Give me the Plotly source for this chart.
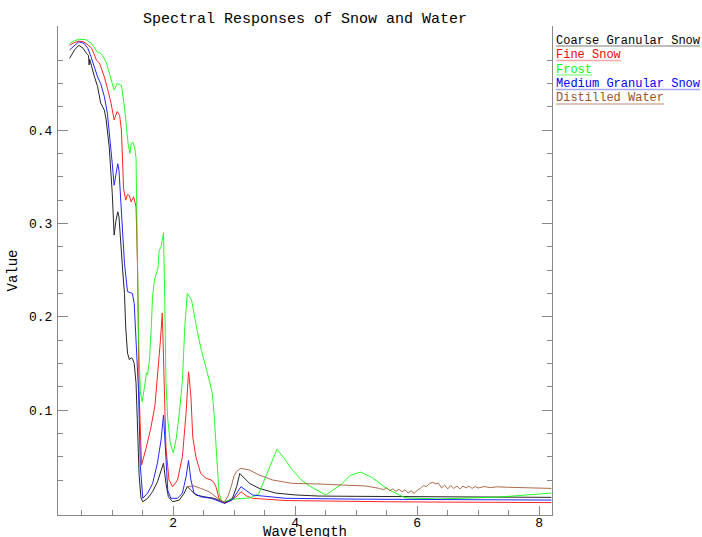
import plotly.graph_objects as go

# ---------------- data ----------------
coarse_w = [0.30, 0.38, 0.45, 0.52, 0.58, 0.61, 0.62, 0.63, 0.70, 0.76, 0.81, 0.87, 0.90, 0.92, 0.95,
            1.00, 1.03, 1.06, 1.09, 1.11, 1.14, 1.17, 1.20, 1.22, 1.25, 1.28, 1.31, 1.33, 1.36, 1.39,
            1.41, 1.44, 1.47, 1.50, 1.58, 1.66, 1.74, 1.80, 1.84, 1.88, 1.92, 1.99, 2.10, 2.18, 2.23,
            2.29, 2.37, 2.51, 2.67, 2.76, 2.84, 2.97, 3.04, 3.09, 3.14, 3.25, 3.41, 3.68, 4.00, 4.39,
            5.00, 6.00, 7.00, 8.20]
coarse_v = [0.477, 0.486, 0.491, 0.488, 0.482, 0.480, 0.470, 0.476, 0.459, 0.4465, 0.429, 0.4215, 0.411, 0.397, 0.382,
            0.332, 0.2876, 0.303, 0.3125, 0.307, 0.275, 0.250, 0.225, 0.189, 0.161, 0.154, 0.156, 0.1554, 0.150, 0.1286,
            0.090, 0.030, 0.006, 0.0017, 0.0054, 0.0124, 0.023, 0.034, 0.043, 0.0214, 0.007, 0.0017, 0.0035, 0.011, 0.018,
            0.014, 0.009, 0.007, 0.0054, 0.003, 0.0006, 0.0054, 0.018, 0.032, 0.0285, 0.0214, 0.016, 0.011, 0.009, 0.0078,
            0.0075, 0.0070, 0.0068, 0.0064]

fine_w = [0.30, 0.38, 0.45, 0.52, 0.57, 0.66, 0.70, 0.74, 0.79, 0.83, 0.87, 0.92, 0.98, 1.03, 1.06,
          1.08, 1.12, 1.15, 1.185, 1.22, 1.25, 1.28, 1.31, 1.35, 1.39, 1.415, 1.44, 1.48, 1.55, 1.63,
          1.70, 1.75, 1.79, 1.82, 1.85, 1.88, 1.93, 1.99, 2.07, 2.15, 2.21, 2.25, 2.27, 2.29, 2.32,
          2.37, 2.45, 2.54, 2.62, 2.66, 2.70, 2.75, 2.84, 2.95, 3.05, 3.11, 3.20, 3.30, 3.85, 4.50,
          5.50, 6.50, 8.20]
fine_v = [0.491, 0.494, 0.4955, 0.495, 0.493, 0.488, 0.482, 0.475, 0.472, 0.465, 0.457, 0.445, 0.429, 0.411, 0.418,
          0.420, 0.416, 0.400, 0.3376, 0.325, 0.331, 0.330, 0.323, 0.3287, 0.318, 0.250, 0.120, 0.041, 0.058, 0.080,
          0.105, 0.140, 0.175, 0.204, 0.130, 0.060, 0.025, 0.0178, 0.025, 0.050, 0.0967, 0.141, 0.129, 0.114, 0.071,
          0.050, 0.032, 0.0268, 0.025, 0.023, 0.0178, 0.0054, 0.0, 0.003, 0.008, 0.0124, 0.008, 0.0054, 0.003, 0.0022,
          0.0017, 0.0013, 0.0008]

frost_w = [0.30, 0.38, 0.46, 0.57, 0.66, 0.75, 0.80, 0.84, 0.90, 1.00, 1.03, 1.08, 1.15, 1.20, 1.26,
           1.29, 1.31, 1.34, 1.37, 1.39, 1.41, 1.43, 1.46, 1.49, 1.53, 1.56, 1.58, 1.61, 1.64, 1.66,
           1.69, 1.72, 1.75, 1.76, 1.77, 1.80, 1.84, 1.86, 1.88, 1.91, 1.95, 2.00, 2.05, 2.10, 2.15,
           2.19, 2.23, 2.26, 2.30, 2.38, 2.46, 2.56, 2.62, 2.64, 2.67, 2.70, 2.75, 2.80, 2.92, 3.05,
           3.25, 3.40, 3.55, 3.70, 3.80, 3.95, 4.10, 4.25, 4.50, 4.75, 4.90, 5.07, 5.25, 5.50, 5.70,
           5.82, 6.36, 7.34, 8.20]
frost_v = [0.493, 0.496, 0.4975, 0.497, 0.493, 0.484, 0.483, 0.480, 0.473, 0.450, 0.443, 0.450, 0.448, 0.425, 0.385,
           0.375, 0.386, 0.387, 0.380, 0.370, 0.280, 0.180, 0.120, 0.109, 0.125, 0.140, 0.138, 0.154, 0.189, 0.221,
           0.239, 0.245, 0.252, 0.265, 0.271, 0.275, 0.290, 0.220, 0.130, 0.090, 0.065, 0.054, 0.070, 0.097, 0.132,
           0.190, 0.225, 0.222, 0.218, 0.189, 0.164, 0.140, 0.125, 0.118, 0.095, 0.065, 0.011, 0.001, 0.0035, 0.005,
           0.0057, 0.010, 0.035, 0.058, 0.050, 0.036, 0.025, 0.018, 0.009, 0.020, 0.030, 0.0335, 0.028, 0.016, 0.009,
           0.0057, 0.0047, 0.0067, 0.011]

medium_w = [0.30, 0.38, 0.45, 0.54, 0.60, 0.65, 0.70, 0.76, 0.81, 0.87, 0.92, 0.95, 1.00, 1.03, 1.06,
            1.09, 1.11, 1.14, 1.17, 1.20, 1.25, 1.28, 1.31, 1.33, 1.36, 1.39, 1.41, 1.43, 1.46, 1.50,
            1.58, 1.66, 1.74, 1.80, 1.84, 1.88, 1.91, 1.96, 2.07, 2.15, 2.21, 2.25, 2.29, 2.34, 2.45,
            2.62, 2.75, 2.84, 2.97, 3.05, 3.11, 3.30, 3.85, 5.00, 6.50, 8.20]
medium_v = [0.486, 0.491, 0.4948, 0.493, 0.4876, 0.479, 0.468, 0.457, 0.450, 0.436, 0.418, 0.400, 0.364, 0.341, 0.355,
            0.364, 0.357, 0.321, 0.286, 0.257, 0.227, 0.226, 0.225, 0.225, 0.214, 0.178, 0.143, 0.121, 0.040, 0.0054,
            0.011, 0.021, 0.043, 0.068, 0.0946, 0.043, 0.014, 0.0054, 0.0054, 0.011, 0.0285, 0.046, 0.025, 0.011, 0.007,
            0.0054, 0.0017, 0.0, 0.004, 0.012, 0.0178, 0.0089, 0.0054, 0.0045, 0.0040, 0.0035]

water_w = [2.23, 2.34, 2.45, 2.59, 2.64, 2.70, 2.78, 2.84, 2.90, 2.95, 3.00, 3.05, 3.11, 3.25, 3.41,
           3.63, 3.95, 4.39, 5.16, 5.38, 5.45, 5.50, 5.55, 5.60, 5.65, 5.70, 5.75, 5.80, 5.85, 5.90,
           5.95, 6.00, 6.05, 6.10, 6.15, 6.20, 6.25, 6.30, 6.35, 6.40, 6.45, 6.50, 6.55, 6.60, 6.65,
           6.70, 6.75, 6.80, 6.85, 6.90, 6.95, 7.00, 7.10, 7.20, 7.30, 7.50, 8.00, 8.20]
water_v = [0.018, 0.0186, 0.016, 0.0124, 0.010, 0.007, 0.0029, 0.0014, 0.008, 0.018, 0.030, 0.035, 0.0375, 0.0357, 0.0303,
           0.025, 0.0214, 0.0207, 0.0186, 0.016, 0.0145, 0.0165, 0.0135, 0.0155, 0.013, 0.015, 0.0125, 0.0145, 0.011, 0.0135,
           0.0105, 0.014, 0.016, 0.019, 0.018, 0.021, 0.0225, 0.021, 0.0215, 0.0165, 0.0195, 0.0155, 0.019, 0.016, 0.0185,
           0.0155, 0.0185, 0.0165, 0.0185, 0.016, 0.018, 0.0165, 0.018, 0.0168, 0.0177, 0.0172, 0.0167, 0.016]

series_names = ["Coarse Granular Snow", "Fine Snow", "Frost", "Medium Granular Snow", "Distilled Water"]
series_colors = ["#000000", "#ff0000", "#00ff00", "#0000ff", "#a0522d"]
series_under = ["rgba(0,0,0,0.35)", "rgba(255,0,0,0.35)", "rgba(0,255,0,0.4)", "rgba(0,0,255,0.35)", "rgba(160,82,45,0.45)"]
series_x = [coarse_w, fine_w, frost_w, medium_w, water_w]
series_y = [coarse_v, fine_v, frost_v, medium_v, water_v]

x_major = [2, 4, 6, 8]
y_major = [0.1, 0.2, 0.3, 0.4]
y_minor = [0.025, 0.05, 0.075, 0.125, 0.15, 0.175, 0.225, 0.25, 0.275, 0.325, 0.35, 0.375, 0.425, 0.45, 0.475]

# ---------------- layout geometry (reference pixel coordinates) ----------------
W, H = 702, 537
L, R, T, B = 58, 552, 26, 515
FONT = "Liberation Mono, Courier New, monospace"


def px_x(p):
    return (p - L) / (R - L)


def px_y(p):
    return (B - p) / (B - T)


fig = go.Figure()
for name, col, xs, ys in zip(series_names, series_colors, series_x, series_y):
    fig.add_trace(go.Scatter(x=xs, y=ys, mode="lines", name=name, opacity=0.85,
                             line=dict(color=col, width=1), showlegend=False))

fig.update_layout(
    template="none",
    width=W, height=H,
    margin=dict(l=L, r=W - R, t=T, b=H - B, pad=0),
    paper_bgcolor="white", plot_bgcolor="white",
    font=dict(family=FONT, size=13, color="black"),
    title=dict(text="Spectral Responses of Snow and Water", x=0.5, xref="paper",
               y=1 - 18 / H, yref="container", yanchor="middle", xanchor="center",
               font=dict(family=FONT, size=15, color="black")),
)

fig.update_xaxes(range=[0.11, 8.21], automargin=False, showgrid=False, zeroline=False,
                 showline=True, linecolor="#888888", linewidth=1,
                 ticks="inside", ticklen=9, tickcolor="#888888", tickwidth=1,
                 tickmode="array", tickvals=x_major, ticktext=[str(v) for v in x_major],
                 ticklabelstandoff=-5,
                 minor=dict(dtick=0.5, tick0=0, ticks="inside", ticklen=5, tickcolor="#888888", showgrid=False),
                 tickfont=dict(family=FONT, size=13, color="black"))

fig.update_yaxes(range=[-0.0125, 0.5117], automargin=False, showgrid=False, zeroline=False,
                 showline=True, linecolor="#888888", linewidth=1, mirror="ticks",
                 ticks="inside", ticklen=10, tickcolor="#888888", tickwidth=1,
                 tickmode="array", tickvals=y_major, ticktext=["0.1", "0.2", "0.3", "0.4"],
                 ticklabelstandoff=2,
                 minor=dict(tickvals=y_minor, ticks="inside", ticklen=5, tickcolor="#888888", showgrid=False),
                 tickfont=dict(family=FONT, size=13, color="black"),
                 title=dict(text="Value", standoff=8, font=dict(family=FONT, size=14, color="black")))

# x-axis title (placed directly under the tick labels, as in the reference)
fig.add_annotation(x=0.5, y=px_y(532), xref="paper", yref="paper", text="Wavelength",
                   showarrow=False, xanchor="center", yanchor="middle",
                   font=dict(family=FONT, size=14, color="black"))

# custom legend: coloured text with an underline
text_y = [41, 55.5, 69.5, 84, 98]
line_y = [46, 60.5, 75, 89.5, 104]
for name, col, uc, ty, ly in zip(series_names, series_colors, series_under, text_y, line_y):
    fig.add_annotation(x=px_x(556), y=px_y(ty), xref="paper", yref="paper",
                       text=name, showarrow=False, xanchor="left", yanchor="middle",
                       xshift=-2, font=dict(family=FONT, size=12, color=col))
    fig.add_shape(type="line", xref="paper", yref="paper",
                  x0=px_x(556), x1=px_x(556 + 7.2 * len(name)), y0=px_y(ly), y1=px_y(ly),
                  line=dict(color=uc, width=1.5))

# the page body normally has an 8px margin; remove it so the figure fills the window
fig.write_html("out.html", config={"displayModeBar": False},
               post_script="document.body.style.margin='0px';document.body.style.overflow='hidden';")
